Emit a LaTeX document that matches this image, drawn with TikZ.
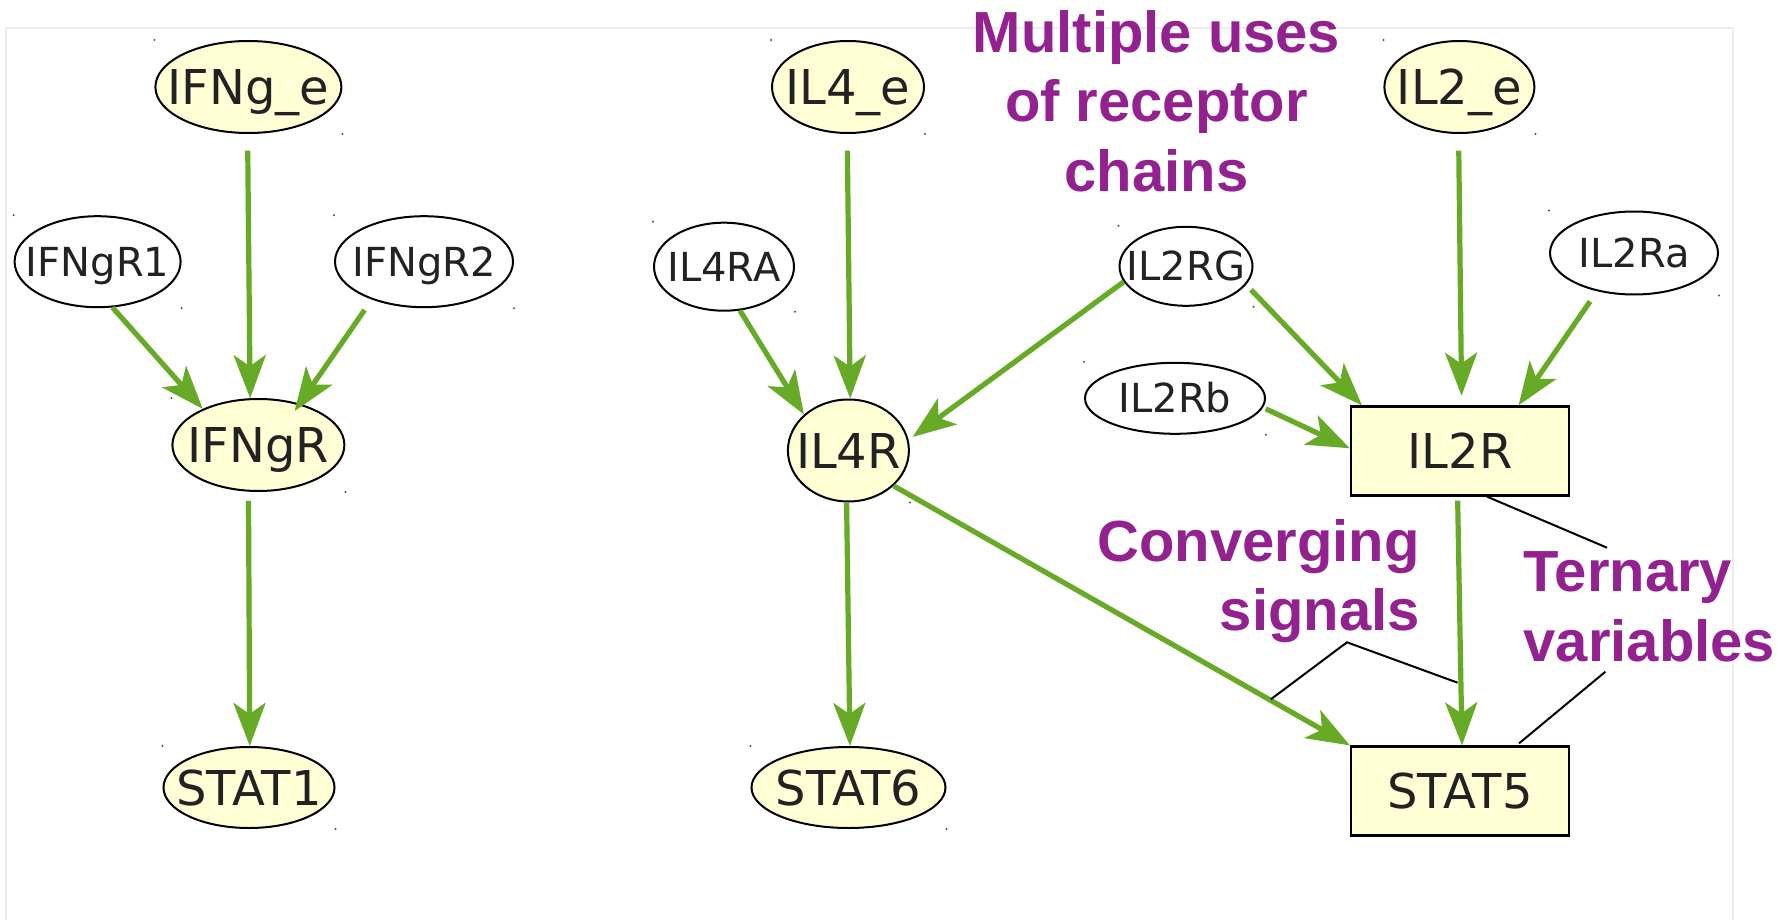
\documentclass[tikz,border=0pt]{standalone}
\usepackage{fontspec}
\newfontfamily\nodefont{DejaVu Sans}
\newfontfamily\notefont{Liberation Sans}
\usetikzlibrary{arrows.meta,shapes.geometric,calc}

\definecolor{edgegreen}{RGB}{103,170,37}
\definecolor{notepurple}{RGB}{147,33,143}
\definecolor{nodefill}{RGB}{255,254,212}
\definecolor{labelgrey}{RGB}{34,34,34}
\definecolor{framegrey}{RGB}{236,236,236}
\definecolor{dotgrey}{RGB}{80,80,80}

% zero-width label box, so the ellipse size is set only by the minimum sizes
\newcommand\nodetext[1]{\makebox[0pt]{#1}}

\tikzset{
  species/.style={ellipse, draw=black, line width=2pt, inner sep=0pt,
    text=labelgrey, text depth=0pt},
  big/.style={species, fill=nodefill,
    font=\nodefont\fontsize{48}{58}\selectfont, text height=35pt},
  small/.style={species, fill=white,
    font=\nodefont\fontsize{40}{48}\selectfont, text height=29pt},
  boxnode/.style={rectangle, draw=black, line width=2.2pt, fill=nodefill,
    inner sep=0pt, text=labelgrey, text depth=0pt, text height=35pt,
    font=\nodefont\fontsize{48}{58}\selectfont,
    minimum width=218pt, minimum height=89pt},
  link/.style={draw=edgegreen, line width=5.2pt,
    -{Stealth[length=43pt,width=32pt,inset=11pt]}},
  pointer/.style={draw=black, line width=2pt},
  note/.style={text=notepurple, inner sep=0pt,
    font=\notefont\bfseries\fontsize{58}{69.5}\selectfont}
}

\begin{document}
\begin{tikzpicture}[x=1pt, y=-1pt]
\useasboundingbox (0,0) rectangle (1785,920);
\fill[white] (0,0) rectangle (1785,920);

% light panel frame
\draw[framegrey, line width=1.5pt] (6,920) -- (6,28) -- (1733,28) -- (1733,920);

% IFN-gamma branch
\node[big, minimum width=186pt, minimum height=92pt] (ifnge) at (248.4,87) {\nodetext{IFNg\_e}};
\node[small, minimum width=166pt, minimum height=91pt] (ifngr1) at (97.6,261.7) {\nodetext{IFNgR1}};
\node[small, minimum width=178pt, minimum height=91pt] (ifngr2) at (424,261.7) {\nodetext{IFNgR2}};
\node[big, minimum width=172pt, minimum height=92pt] (ifngr) at (258.4,445) {\nodetext{IFNgR}};
\node[big, minimum width=171pt, minimum height=81pt] (stat1) at (249,787.5) {\nodetext{STAT1}};

% IL-4 branch
\node[big, minimum width=152pt, minimum height=92pt] (il4e) at (848,87) {\nodetext{IL4\_e}};
\node[small, minimum width=140pt, minimum height=88pt] (il4ra) at (724,266.7) {\nodetext{IL4RA}};
\node[big, minimum width=121pt, minimum height=102pt] (il4r) at (848.4,450.5) {\nodetext{IL4R}};
\node[big, minimum width=194pt, minimum height=81pt] (stat6) at (848.5,787.5) {\nodetext{STAT6}};

% IL-2 branch
\node[big, minimum width=150pt, minimum height=92pt] (il2e) at (1459.4,87) {\nodetext{IL2\_e}};
\node[small, minimum width=133pt, minimum height=79pt] (il2rg) at (1186,266.3) {\nodetext{IL2RG}};
\node[small, minimum width=168pt, minimum height=83pt] (il2ra) at (1634,253) {\nodetext{IL2Ra}};
\node[small, minimum width=180pt, minimum height=71pt] (il2rb) at (1175,398.3) {\nodetext{IL2Rb}};
\node[boxnode] (il2r) at (1460,451) {IL2R};
\node[boxnode] (stat5) at (1460,791) {STAT5};

% corner marks of the ellipse bounding boxes
\foreach \n in {ifnge,ifngr1,ifngr2,ifngr,stat1,il4e,il4ra,il4r,stat6,il2e,il2rg,il2ra,il2rb}{
  \fill[dotgrey] (\n.west |- \n.north) circle[radius=1.1pt];
  \fill[dotgrey] (\n.east |- \n.south) circle[radius=1.1pt];
}

% signalling edges
\draw[link, shorten <=16.7pt] (ifnge.269) -- (ifngr.100);
\draw[link] (ifngr1.288) -- (ifngr.147);
\draw[link, shorten <=12.7pt, shorten >=-9pt] (ifngr2.216) -- (ifngr.45);
\draw[link, shorten <=9.2pt] (ifngr.258) -- (stat1.89);

\draw[link, shorten <=16.7pt] (il4e.269) -- (il4r.88);
\draw[link] (il4ra.290) -- (il4r.141);
\draw[link, shorten >=5pt] (il2rg.194) -- (il4r.10);
\draw[link] (il4r.268) -- (stat6.88);
\draw[link] (il4r.322) -- (stat5.north west);

\draw[link, shorten <=16.7pt, shorten >=9.7pt] (il2e.269) -- ([xshift=1.7pt]il2r.north);
\draw[link, shorten <=12.3pt] (il2ra.226) -- ([xshift=58.5pt]il2r.north);
\draw[link, shorten <=7pt] (il2rg.343) -- ([xshift=-98pt]il2r.north);
\draw[link, shorten <=3pt] (il2rb.354) -- ([yshift=2.7pt]il2r.west);
\draw[link, shorten <=4pt] ([xshift=-2.4pt]il2r.south) -- ([xshift=2pt]stat5.north);

% annotations
\node[note, align=center, anchor=north] (chainsnote) at (1156.5,10.2)
  {Multiple uses\\of receptor\\chains};
\node[note, align=right, anchor=north east] (convnote) at (1420,519)
  {Converging\\signals};
\node[note, align=left, anchor=north west] (ternnote) at (1523.5,551.8)
  {Ternary\\variables};

\coordinate (ternup) at (1607,547.7);
\coordinate (ternlow) at (1605.4,671.7);
\coordinate (convleft) at (1270.8,699.3);
\coordinate (convpeak) at (1347,642.3);
\coordinate (convright) at (1457.6,682.7);

\draw[pointer] ([xshift=26.9pt]il2r.south) -- (ternup);
\draw[pointer] (ternlow) -- ([xshift=59pt,yshift=2pt]stat5.north);
\draw[pointer] (convleft) -- (convpeak) -- (convright);
\end{tikzpicture}
\end{document}
